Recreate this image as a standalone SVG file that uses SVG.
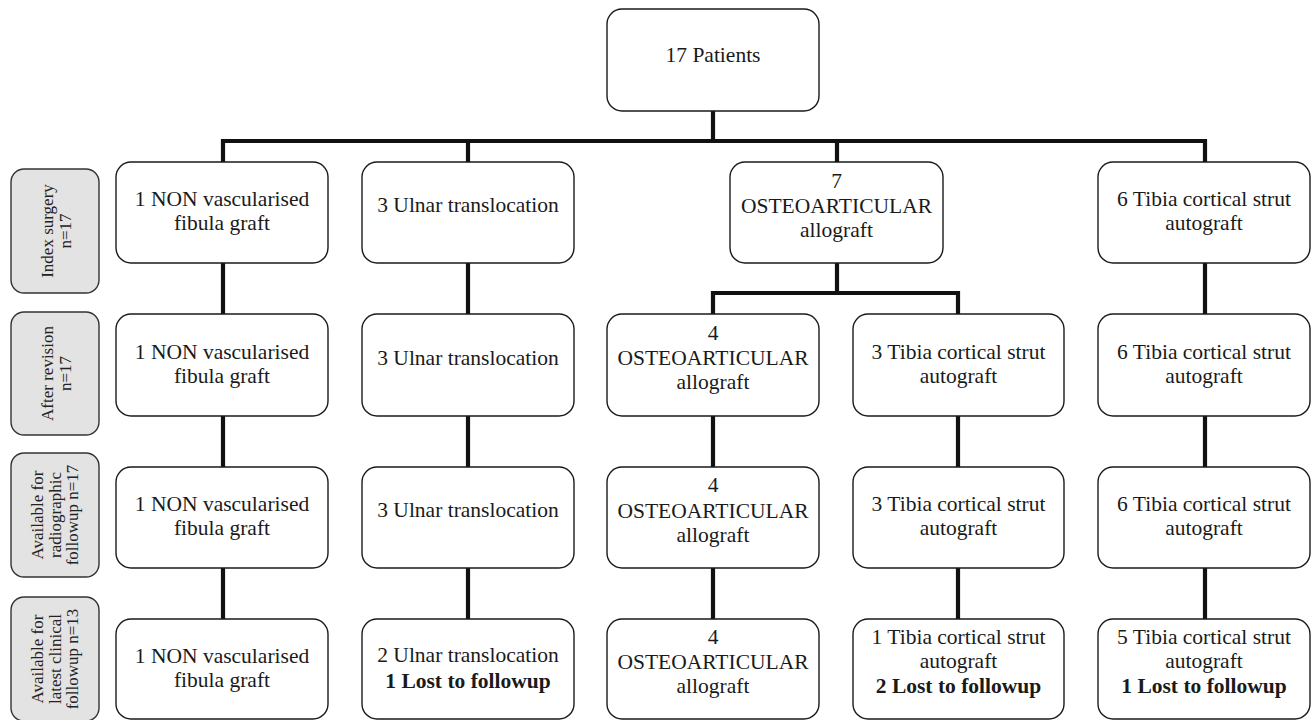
<svg xmlns="http://www.w3.org/2000/svg" width="1312" height="720" viewBox="0 0 1312 720">
<style>
.box{fill:#fff;stroke:#1a1a1a;stroke-width:1.4}
.gbox{fill:#e3e3e3;stroke:#333;stroke-width:1.4}
.t{font-family:'Liberation Serif','DejaVu Serif',serif;font-size:21.5px;fill:#1a1a1a;text-anchor:middle}
.g{font-family:'Liberation Serif','DejaVu Serif',serif;font-size:17px;fill:#222;text-anchor:middle}
.b{font-weight:bold}
.c{fill:none;stroke:#111;stroke-width:4.2;stroke-linejoin:miter;stroke-linecap:butt}
</style>
<rect width="1312" height="720" fill="#fff"/>
<g id="connectors">
<path class="c" d="M713 111V141"/>
<path class="c" d="M223 162V141H1205V162"/>
<path class="c" d="M468 141V162"/>
<path class="c" d="M837 141V162"/>
<path class="c" d="M223 263V314M223 416V467M223 568V619"/>
<path class="c" d="M468 263V314M468 416V467M468 568V619"/>
<path class="c" d="M837 263V293"/>
<path class="c" d="M713 314V293H958V314"/>
<path class="c" d="M713 416V467M713 568V619"/>
<path class="c" d="M958 416V467M958 568V619"/>
<path class="c" d="M1205 263V314M1205 416V467M1205 568V619"/>
</g>
<g id="top">
<rect class="box" x="607" y="9" width="212" height="102" rx="15"/>
<text class="t" x="713" y="62">17 Patients</text>
</g>
<g id="lbl-index">
<rect class="gbox" x="11" y="169" width="88" height="124" rx="13"/>
<text class="g" transform="translate(0 231) rotate(-90)"><tspan x="0" y="53">Index surgery</tspan><tspan x="0" y="71">n=17</tspan></text>
</g>
<g id="lbl-revision">
<rect class="gbox" x="11" y="312" width="88" height="123" rx="13"/>
<text class="g" transform="translate(0 373.5) rotate(-90)"><tspan x="0" y="53">After revision</tspan><tspan x="0" y="71">n=17</tspan></text>
</g>
<g id="lbl-radio">
<rect class="gbox" x="11" y="453" width="88" height="124" rx="13"/>
<text class="g" transform="translate(0 515) rotate(-90)"><tspan x="0" y="43">Available for</tspan><tspan x="0" y="60.5">radiographic</tspan><tspan x="0" y="78">followup n=17</tspan></text>
</g>
<g id="lbl-clinical">
<rect class="gbox" x="11" y="597" width="88" height="124" rx="13"/>
<text class="g" transform="translate(0 659) rotate(-90)"><tspan x="0" y="43">Available for</tspan><tspan x="0" y="60.5">latest clinical</tspan><tspan x="0" y="78">followup n=13</tspan></text>
</g>
<g id="r1c1">
<rect class="box" x="116" y="162" width="212" height="101" rx="15"/>
<text class="t"><tspan x="222" y="206">1 NON vascularised</tspan><tspan x="222" y="230">fibula graft</tspan></text>
</g>
<g id="r1c2">
<rect class="box" x="362" y="162" width="212" height="101" rx="15"/>
<text class="t" x="468" y="212">3 Ulnar translocation</text>
</g>
<g id="r1c3">
<rect class="box" x="730" y="162" width="213" height="101" rx="15"/>
<text class="t"><tspan x="836.5" y="188">7</tspan><tspan x="836.5" y="212.5">OSTEOARTICULAR</tspan><tspan x="836.5" y="236.5">allograft</tspan></text>
</g>
<g id="r1c5">
<rect class="box" x="1098" y="162" width="212" height="101" rx="15"/>
<text class="t"><tspan x="1204" y="206">6 Tibia cortical strut</tspan><tspan x="1204" y="230">autograft</tspan></text>
</g>
<g id="r2c1">
<rect class="box" x="116" y="314" width="212" height="102" rx="15"/>
<text class="t"><tspan x="222" y="358.5">1 NON vascularised</tspan><tspan x="222" y="382.5">fibula graft</tspan></text>
</g>
<g id="r2c2">
<rect class="box" x="362" y="314" width="212" height="102" rx="15"/>
<text class="t" x="468" y="365">3 Ulnar translocation</text>
</g>
<g id="r2c3">
<rect class="box" x="607" y="314" width="212" height="102" rx="15"/>
<text class="t"><tspan x="713" y="340">4</tspan><tspan x="713" y="365">OSTEOARTICULAR</tspan><tspan x="713" y="389">allograft</tspan></text>
</g>
<g id="r2c4">
<rect class="box" x="853" y="314" width="211" height="102" rx="15"/>
<text class="t"><tspan x="958.5" y="358.5">3 Tibia cortical strut</tspan><tspan x="958.5" y="382.5">autograft</tspan></text>
</g>
<g id="r2c5">
<rect class="box" x="1098" y="314" width="212" height="102" rx="15"/>
<text class="t"><tspan x="1204" y="358.5">6 Tibia cortical strut</tspan><tspan x="1204" y="382.5">autograft</tspan></text>
</g>
<g id="r3c1">
<rect class="box" x="116" y="467" width="212" height="101" rx="15"/>
<text class="t"><tspan x="222" y="510.5">1 NON vascularised</tspan><tspan x="222" y="535">fibula graft</tspan></text>
</g>
<g id="r3c2">
<rect class="box" x="362" y="467" width="212" height="101" rx="15"/>
<text class="t" x="468" y="517">3 Ulnar translocation</text>
</g>
<g id="r3c3">
<rect class="box" x="607" y="467" width="212" height="101" rx="15"/>
<text class="t"><tspan x="713" y="492">4</tspan><tspan x="713" y="517.5">OSTEOARTICULAR</tspan><tspan x="713" y="541.5">allograft</tspan></text>
</g>
<g id="r3c4">
<rect class="box" x="853" y="467" width="211" height="101" rx="15"/>
<text class="t"><tspan x="958.5" y="510.5">3 Tibia cortical strut</tspan><tspan x="958.5" y="535">autograft</tspan></text>
</g>
<g id="r3c5">
<rect class="box" x="1098" y="467" width="212" height="101" rx="15"/>
<text class="t"><tspan x="1204" y="510.5">6 Tibia cortical strut</tspan><tspan x="1204" y="535">autograft</tspan></text>
</g>
<g id="r4c1">
<rect class="box" x="116" y="619" width="212" height="100" rx="15"/>
<text class="t"><tspan x="222" y="662.5">1 NON vascularised</tspan><tspan x="222" y="687">fibula graft</tspan></text>
</g>
<g id="r4c2">
<rect class="box" x="362" y="619" width="212" height="100" rx="15"/>
<text class="t"><tspan x="468" y="662">2 Ulnar translocation</tspan><tspan class="b" x="468" y="688">1 Lost to followup</tspan></text>
</g>
<g id="r4c3">
<rect class="box" x="607" y="619" width="212" height="100" rx="15"/>
<text class="t"><tspan x="713" y="644">4</tspan><tspan x="713" y="669">OSTEOARTICULAR</tspan><tspan x="713" y="693">allograft</tspan></text>
</g>
<g id="r4c4">
<rect class="box" x="853" y="619" width="211" height="100" rx="15"/>
<text class="t"><tspan x="958.5" y="644">1 Tibia cortical strut</tspan><tspan x="958.5" y="668">autograft</tspan><tspan class="b" x="958.5" y="693">2 Lost to followup</tspan></text>
</g>
<g id="r4c5">
<rect class="box" x="1098" y="619" width="212" height="100" rx="15"/>
<text class="t"><tspan x="1204" y="644">5 Tibia cortical strut</tspan><tspan x="1204" y="668">autograft</tspan><tspan class="b" x="1204" y="693">1 Lost to followup</tspan></text>
</g>
</svg>
